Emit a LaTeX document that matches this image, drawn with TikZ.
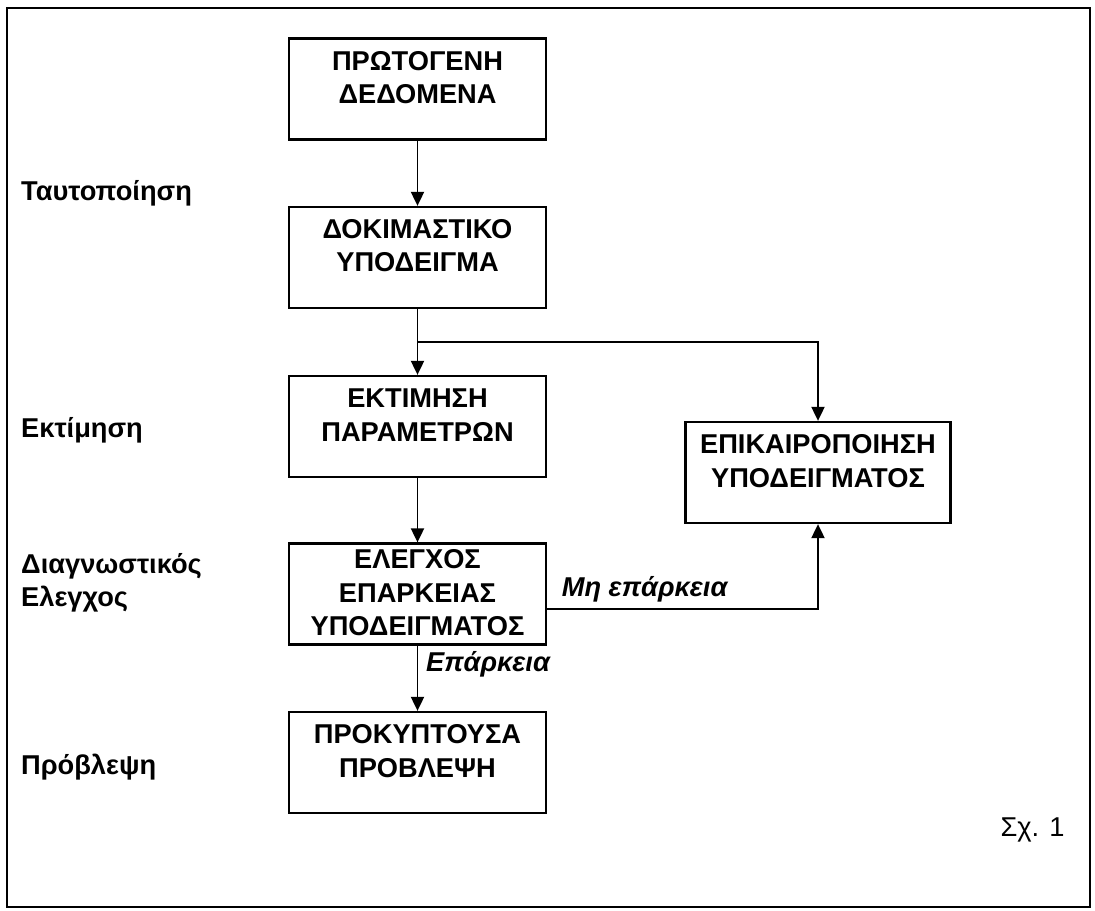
\documentclass[tikz,border=0pt]{standalone}
\usepackage{fontspec}
\setmainfont{Liberation Sans}
\usetikzlibrary{arrows.meta, positioning}

\tikzset{
  stagebox/.style={draw, line width=1.3pt, inner sep=0pt, minimum width=5.14cm,
    text height=1.3cm, text depth=0.72cm, align=center,
    font=\fontsize{15.5}{19}\selectfont\bfseries},
  stagelabel/.style={anchor=west, align=left, font=\fontsize{15.5}{19}\selectfont\bfseries},
  flowlabel/.style={font=\fontsize{15.5}{19}\selectfont\bfseries\itshape},
  flowarrow/.style={line width=1.1pt, -{Triangle[length=0.28cm, width=0.26cm]}}
}

\begin{document}
\begin{tikzpicture}
        \useasboundingbox (0,0) rectangle (21.9,18.2);
        % Frame
        \draw[line width=1.4pt] (0.14,0.06) rectangle (21.8,18.04);

        % Main column
        \node[stagebox] (data) at (8.35,16.42) {ΠΡΩΤΟΓΕΝΗ\\ΔΕΔΟΜΕΝΑ};
        \node[stagebox] (trial) at (8.35,13.05) {ΔΟΚΙΜΑΣΤΙΚΟ\\ΥΠΟΔΕΙΓΜΑ};
        \node[stagebox] (est) at (8.35,9.67) {ΕΚΤΙΜΗΣΗ\\ΠΑΡΑΜΕΤΡΩΝ};
        \node[stagebox, text height=1.84cm, text depth=0.18cm] (check) at (8.35,6.32) {ΕΛΕΓΧΟΣ\\ΕΠΑΡΚΕΙΑΣ\\ΥΠΟΔΕΙΓΜΑΤΟΣ};
        \node[stagebox] (pred) at (8.35,2.95) {ΠΡΟΚΥΠΤΟΥΣΑ\\ΠΡΟΒΛΕΨΗ};

        % Update box
        \node[stagebox, minimum width=5.3cm] (upd) at (16.36,8.75) {ΕΠΙΚΑΙΡΟΠΟΙΗΣΗ\\ΥΠΟΔΕΙΓΜΑΤΟΣ};

        % Stage names
        \node[stagelabel] (ident) at (0.3,14.34) {Ταυτοποίηση};
        \node[stagelabel] (estim) at (0.3,9.6) {Εκτίμηση};
        \node[stagelabel] (diag) at (0.3,6.55) {Διαγνωστικός\\Ελεγχος};
        \node[stagelabel] (forec) at (0.3,2.86) {Πρόβλεψη};

        % Connectors
        \coordinate (split) at (8.35,11.36);
        \draw[flowarrow] (data) -- (trial);
        \draw[line width=1.1pt] (trial) -- (split);
        \draw[flowarrow] (split) -- (est);
        \draw[flowarrow] (split) -| (upd);
        \draw[flowarrow] (est) -- (check);
        \draw[flowarrow] ([yshift=-0.3cm]check.east) -| node[flowlabel, pos=0.18, above] {Μη επάρκεια} (upd);
        \draw[flowarrow] (check) -- node[flowlabel, pos=0.28, right=1pt] {Επάρκεια} (pred);

        % Figure number
        \node (fig) at (20.65,1.6) {\fontsize{15.5}{19}\selectfont Σχ. 1};
\end{tikzpicture}
\end{document}
